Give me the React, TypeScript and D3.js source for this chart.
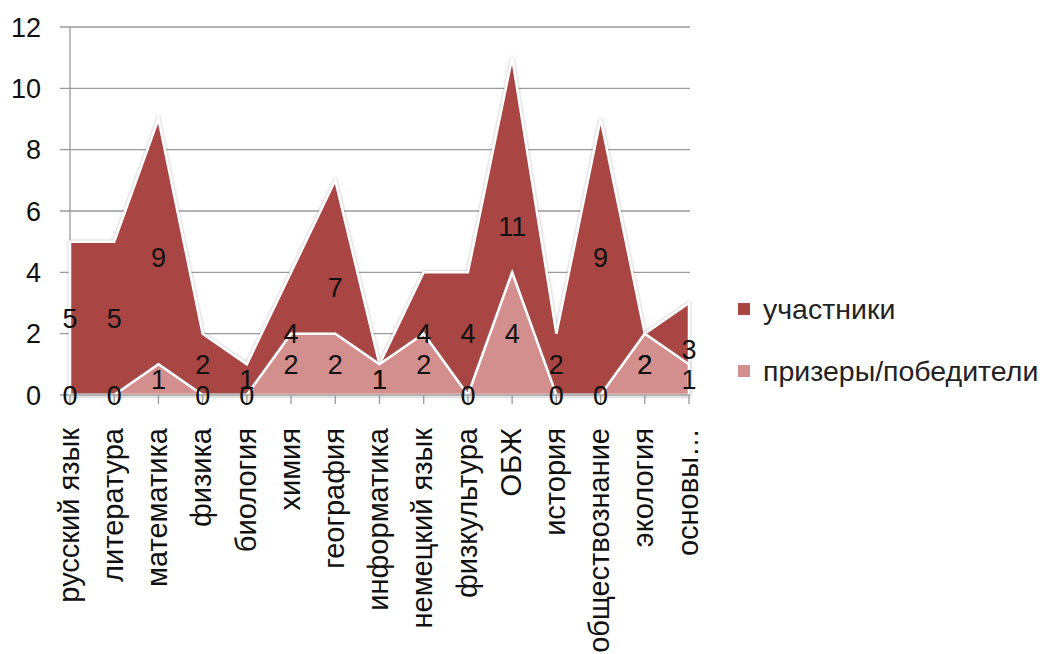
import { useEffect, useRef } from 'react';
import * as d3 from 'd3';

const categories = [
  'русский язык', 'литература', 'математика', 'физика', 'биология', 'химия',
  'география', 'информатика', 'немецкий язык', 'физкультура', 'ОБЖ', 'история',
  'обществознание', 'экология', 'основы…',
];
const participants = [5, 5, 9, 2, 1, 4, 7, 1, 4, 4, 11, 2, 9, 2, 3];
const winners = [0, 0, 1, 0, 0, 2, 2, 1, 2, 0, 4, 0, 0, 2, 1];
const yTicks = [0, 2, 4, 6, 8, 10, 12];
const seriesNames = ['участники', 'призеры/победители'];

const DARK = '#A94543';
const LIGHT = '#D38E8E';
const FONT = '"Liberation Sans", Arial, sans-serif';

export default function App() {
  const svgRef = useRef<SVGSVGElement>(null);

  useEffect(() => {
    if (!svgRef.current) return;
    const svg = d3.select(svgRef.current);
    svg.selectAll('*').remove();

    const width = 1045;
    const height = 654;
    const plot = { left: 70, right: 689, top: 27, bottom: 395 };

    const x = d3.scalePoint<string>().domain(categories).range([plot.left, plot.right]);
    const y = d3.scaleLinear().domain([0, 12]).range([plot.bottom, plot.top]);

    svg.attr('width', width).attr('height', height);

    const defs = svg.append('defs');
    const f = defs.append('filter').attr('id', 'glow').attr('x', '-10%').attr('y', '-10%').attr('width', '120%').attr('height', '120%');
    f.append('feDropShadow')
      .attr('dx', 0).attr('dy', 0).attr('stdDeviation', 1.6)
      .attr('flood-color', '#777').attr('flood-opacity', 0.55);

    // gridlines (extend left past the axis as tick marks)
    svg.append('g')
      .selectAll('line')
      .data(yTicks)
      .enter().append('line')
      .attr('x1', plot.left - 10)
      .attr('x2', plot.right + 1)
      .attr('y1', d => y(d))
      .attr('y2', d => y(d))
      .attr('stroke', '#9a9a9a')
      .attr('stroke-width', 1.3);

    // y axis line
    svg.append('line')
      .attr('x1', plot.left).attr('x2', plot.left)
      .attr('y1', plot.top).attr('y2', plot.bottom)
      .attr('stroke', '#9a9a9a').attr('stroke-width', 1.3);

    // y tick labels
    svg.append('g')
      .selectAll('text')
      .data(yTicks)
      .enter().append('text')
      .attr('x', 41)
      .attr('y', d => y(d))
      .attr('dy', '0.36em')
      .attr('text-anchor', 'end')
      .attr('font-family', FONT)
      .attr('font-size', 27)
      .attr('fill', '#111')
      .text(d => d);

    const area = (vals: number[]) =>
      d3.area<number>()
        .x((_, i) => x(categories[i])!)
        .y0(y(0))
        .y1(d => y(d))(vals);

    svg.append('path')
      .attr('d', area(participants))
      .attr('fill', DARK)
      .attr('stroke', '#fff')
      .attr('stroke-width', 2.5)
      .attr('filter', 'url(#glow)');

    svg.append('path')
      .attr('d', area(winners))
      .attr('fill', LIGHT)
      .attr('stroke', '#fff')
      .attr('stroke-width', 2.5)
      .attr('filter', 'url(#glow)');

    // x axis
    svg.append('line')
      .attr('x1', plot.left).attr('x2', plot.right + 1)
      .attr('y1', plot.bottom).attr('y2', plot.bottom)
      .attr('stroke', '#9a9a9a').attr('stroke-width', 1.5);

    svg.append('g')
      .selectAll('line')
      .data(categories)
      .enter().append('line')
      .attr('x1', d => x(d)!)
      .attr('x2', d => x(d)!)
      .attr('y1', plot.bottom)
      .attr('y2', plot.bottom + 9)
      .attr('stroke', '#9a9a9a')
      .attr('stroke-width', 1.3);

    svg.append('g')
      .selectAll('text')
      .data(categories)
      .enter().append('text')
      .attr('transform', d => `translate(${x(d)},428) rotate(-90)`)
      .attr('dy', '0.3em')
      .attr('text-anchor', 'end')
      .attr('font-family', FONT)
      .attr('font-size', 29)
      .attr('fill', '#111')
      .text(d => d);

    // data labels, centered at half of each value
    const labels = (vals: number[]) => {
      svg.append('g')
        .selectAll('text')
        .data(vals)
        .enter().append('text')
        .attr('x', (_, i) => x(categories[i])!)
        .attr('y', d => y(d / 2))
        .attr('dy', '0.36em')
        .attr('text-anchor', 'middle')
        .attr('font-family', FONT)
        .attr('font-size', 27)
        .attr('fill', '#111')
        .text(d => d);
    };
    labels(participants);
    labels(winners);

    // legend
    const legend = svg.append('g').attr('transform', 'translate(738,303)');
    [DARK, LIGHT].forEach((c, i) => {
      const g = legend.append('g').attr('transform', `translate(0,${i * 62})`);
      g.append('rect').attr('width', 12).attr('height', 12).attr('fill', c);
      g.append('text')
        .attr('x', 25)
        .attr('y', 6)
        .attr('dy', '0.36em')
        .attr('font-family', FONT)
        .attr('font-size', 28.5)
        .attr('fill', '#222')
        .text(seriesNames[i]);
    });
  }, []);

  return (
    <svg ref={svgRef} style={{ position: 'absolute', left: 0, top: 0, background: '#fff' }} />
  );
}
